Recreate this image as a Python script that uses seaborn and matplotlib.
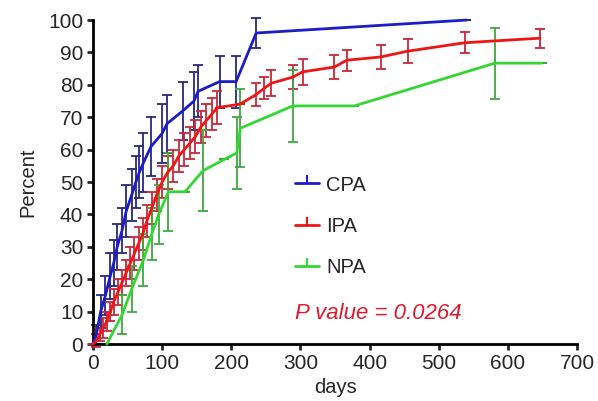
import numpy as np
import pandas as pd
import seaborn as sns
import matplotlib.pyplot as plt
from matplotlib.lines import Line2D

# 数据
cpa_days = [0, 5, 11, 18, 25, 30, 35, 42, 48, 56, 62, 67, 73, 84, 100, 107, 130, 146, 152, 183, 207, 236, 540]
cpa_pct = [0, 3, 10, 15, 21, 25, 30, 35, 41, 46, 50, 53, 56, 61, 65, 68, 72, 75, 78, 81, 81, 96, 100]
cpa_err = [0, 3, 5, 6, 7, 7, 7, 7, 8, 8, 8, 8, 9, 9, 9, 9, 9, 9, 8, 8, 8, 4.5, 0]

ipa_days = [0, 5, 10, 15, 20, 25, 30, 36, 42, 48, 54, 60, 66, 72, 78, 85, 92, 100, 108, 116, 124, 132,
            140, 148, 156, 164, 172, 180, 212, 236, 248, 258, 289, 303, 349, 367, 416, 455, 538, 646]
ipa_pct = [0, 1, 3, 5, 7, 10, 13, 16, 19, 22, 25, 28, 31, 34, 38, 42, 46, 50, 53, 55, 58, 60,
           62, 64, 67, 69, 71, 73, 74, 77, 79, 80.5, 82.4, 84, 85.5, 87.6, 88.6, 90.4, 93, 94.4]
ipa_err = [0, 2, 2, 3, 3, 3, 4, 4, 4, 4, 5, 5, 5, 5, 5, 5, 5, 5, 5, 5, 5, 5,
           5, 5, 5, 5, 5, 5, 0, 3.5, 3.5, 4, 3.7, 4, 3.7, 3.3, 3.7, 3.6, 3.2, 2.9]

npa_days = [20, 42, 56, 73, 85, 95, 109, 116, 133, 159, 190, 208, 213, 289, 378, 581, 649]
npa_pct = [0, 9, 17, 26, 34, 40, 47, 47, 47, 53.5, 57, 59, 66.6, 73.5, 73.5, 86.7, 86.7]
npa_err = [0, 6, 7, 8, 8, 9, 12, 0, 0, 12.5, 0, 11, 12, 11, 0, 11, 0]

groups = ['CPA', 'IPA', 'NPA']
line_colors = {'CPA': '#1c1cc8', 'IPA': '#ee1515', 'NPA': '#33d633'}
bar_colors = {'CPA': '#28287e', 'IPA': '#c8283a', 'NPA': '#3fa83f'}

df = pd.concat([
    pd.DataFrame({'days': cpa_days, 'pct': cpa_pct, 'err': cpa_err, 'group': 'CPA'}),
    pd.DataFrame({'days': ipa_days, 'pct': ipa_pct, 'err': ipa_err, 'group': 'IPA'}),
    pd.DataFrame({'days': npa_days, 'pct': npa_pct, 'err': npa_err, 'group': 'NPA'}),
], ignore_index=True)

sns.set_style('ticks')
plt.rcParams['font.family'] = ['Liberation Sans', 'DejaVu Sans']

fig = plt.figure(figsize=(5.98, 4.01), dpi=100)
ax = fig.add_axes([0.1555, 0.142, 0.8095, 0.808])

for g in groups:
    sub = df[df['group'] == g]
    ax.errorbar(sub['days'], sub['pct'], yerr=sub['err'], fmt='none',
                ecolor=bar_colors[g], elinewidth=1.3, capsize=3.5, capthick=1.3,
                clip_on=False, zorder=2)

sns.lineplot(data=df, x='days', y='pct', hue='group', palette=line_colors,
             linewidth=2, estimator=None, sort=True, legend=False, ax=ax, zorder=3)
for ln in ax.lines:
    ln.set_clip_on(False)

ax.set_xlim(0, 700)
ax.set_ylim(0, 100)
ax.set_xticks(range(0, 701, 100))
ax.set_yticks(range(0, 101, 10))
ax.tick_params(labelsize=15, width=2, length=4, direction='out', pad=3)
for s in ['left', 'bottom']:
    ax.spines[s].set_linewidth(2)
    ax.spines[s].set_color('black')
sns.despine(ax=ax)
ax.set_xlabel('days', fontsize=14.5, labelpad=4)
ax.set_ylabel('Percent', fontsize=14.5, labelpad=8)

handles = [Line2D([0], [0], color=line_colors[g], lw=2, marker=2, markersize=6,
                  markeredgewidth=1.5) for g in groups]
ax.legend(handles, groups, loc='upper left', bbox_to_anchor=(0.40, 0.545), frameon=False,
          fontsize=14.5, handlelength=1.2, handletextpad=0.35, labelspacing=1.1, borderaxespad=0)

ax.text(0.417, 0.095, 'P value = 0.0264', transform=ax.transAxes, color='#e01830',
        fontsize=16, style='italic', ha='left', va='center')

fig.savefig('out.png', dpi=100)
